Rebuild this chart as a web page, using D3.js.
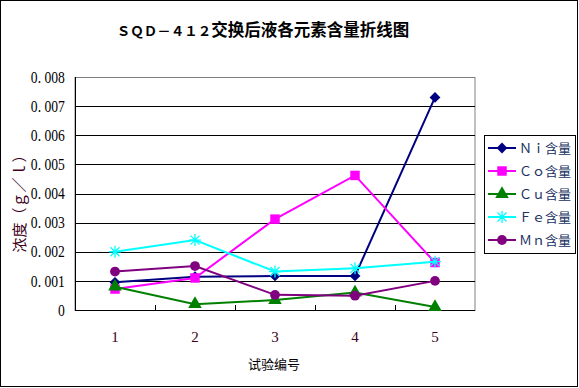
<!DOCTYPE html>
<html>
<head>
<meta charset="utf-8">
<script src="https://cdn.jsdelivr.net/npm/d3@7"></script>
<style>
  body { margin: 0; background: #fff; }
  svg text { font-family: "Liberation Serif", "DejaVu Serif", "Noto Sans CJK SC", serif; }
</style>
</head>
<body>
<svg id="chart" width="579" height="388"></svg>
<script>
// data
var trials = ["1", "2", "3", "4", "5"]
var niValues = [0.00095, 0.00114, 0.00117, 0.00117, 0.0073]
var coValues = [0.00072, 0.0011, 0.00312, 0.00462, 0.00163]
var cuValues = [0.0008, 0.0002, 0.00034, 0.0006, 0.0001]
var feValues = [0.002, 0.0024, 0.00132, 0.00143, 0.00166]
var mnValues = [0.00132, 0.00151, 0.00052, 0.00049, 0.001]
var yTicks = [0, 0.001, 0.002, 0.003, 0.004, 0.005, 0.006, 0.007, 0.008]
var seriesNames = ["Ｎｉ含量", "Ｃｏ含量", "Ｃｕ含量", "Ｆｅ含量", "Ｍｎ含量"]

var series = [
    { name: seriesNames[0], values: niValues, color: "#000080", symbol: d3.symbolDiamond2 },
    { name: seriesNames[1], values: coValues, color: "#ff00ff", symbol: d3.symbolSquare },
    { name: seriesNames[2], values: cuValues, color: "#008000", symbol: d3.symbolTriangle },
    { name: seriesNames[3], values: feValues, color: "#00ffff", symbol: "star" },
    { name: seriesNames[4], values: mnValues, color: "#800080", symbol: d3.symbolCircle }
]

var margin = {top: 77, left: 75},
    width = 400,
    height = 233

var svg = d3.select("#chart")

// outer frame
svg.append("rect")
    .attr("x", 0.5).attr("y", 0.5)
    .attr("width", 577).attr("height", 386)
    .attr("fill", "white").attr("stroke", "black")

var title = svg.append("text")
    .attr("x", 263).attr("y", 36)
    .attr("text-anchor", "middle")
    .style("font-weight", "bold")
title.append("tspan").style("font-size", "13.5px").text("ＳＱＤ－４１２")
title.append("tspan").style("font-size", "16.5px").text("交换后液各元素含量折线图")

var x = d3.scaleBand().domain(trials).range([0, width])
var y = d3.scaleLinear().domain([0, 0.008]).range([height, 0])

var g = svg.append("g")
    .attr("transform", "translate(" + margin.left + "," + margin.top + ")")

// plot border (grey top/right)
g.append("rect")
    .attr("x", 0).attr("y", 0.5)
    .attr("width", width).attr("height", height)
    .attr("fill", "white").attr("stroke", "#808080")

// gridlines
g.selectAll(".grid").data(yTicks.slice(1, -1)).enter()
    .append("line")
    .attr("x1", 0).attr("x2", width)
    .attr("y1", function(d) { return Math.round(y(d)) + 0.5 })
    .attr("y2", function(d) { return Math.round(y(d)) + 0.5 })
    .attr("stroke", "black")

// y axis
var yAxis = d3.axisLeft(y).tickValues(yTicks).tickSize(0).tickPadding(10)
    .tickFormat(function(d) { return d === 0 ? "0" : d3.format(".3f")(d).replace(".", ". ") })
var yg = g.append("g").call(yAxis)
    .attr("font-family", null)
yg.select(".domain").attr("stroke", "black").attr("d", "M0.5,0V" + (height + 0.5))
yg.selectAll("text")
    .style("font-size", "16px")
    .attr("fill", "#000")
    .attr("transform", "scale(0.85,1)")
    .attr("x", -12)

// x axis, ticks inside between categories
var xg = g.append("g").attr("transform", "translate(0," + height + ")")
xg.append("line").attr("x1", 0).attr("x2", width).attr("y1", 0.5).attr("y2", 0.5).attr("stroke", "black")
xg.selectAll(".tick").data(trials.slice(1)).enter()
    .append("line")
    .attr("x1", function(d) { return Math.round(x(d)) + 0.5 })
    .attr("x2", function(d) { return Math.round(x(d)) + 0.5 })
    .attr("y1", 0).attr("y2", -5)
    .attr("stroke", "black")
xg.selectAll(".lbl").data(trials).enter()
    .append("text")
    .attr("x", function(d) { return x(d) + x.bandwidth() / 2 })
    .attr("y", 32)
    .attr("text-anchor", "middle")
    .attr("fill", "#400020")
    .style("font-size", "15px")
    .text(function(d) { return d })

svg.append("text")
    .attr("x", 274).attr("y", 369)
    .attr("text-anchor", "middle")
    .style("font-size", "13px")
    .text("试验编号")

svg.append("text")
    .attr("transform", "translate(25,200) rotate(-90)")
    .attr("text-anchor", "middle")
    .attr("fill", "#400020")
    .style("font-size", "15px")
    .text("浓度（ｇ／ｌ）")

var line = d3.line()
    .x(function(d, i) { return x(trials[i]) + x.bandwidth() / 2 })
    .y(function(d) { return y(d) })

function drawMarker(sel, s, size) {
    if (s.symbol === "star") {
        var r = size
        sel.append("path")
            .attr("d", "M" + (-r) + ",0H" + r + "M0," + (-r) + "V" + r +
                "M" + (-r * 0.75) + "," + (-r * 0.75) + "L" + (r * 0.75) + "," + (r * 0.75) +
                "M" + (-r * 0.75) + "," + (r * 0.75) + "L" + (r * 0.75) + "," + (-r * 0.75))
            .attr("stroke", s.color).attr("stroke-width", 1.3).attr("fill", "none")
    } else {
        var area = s.symbol === d3.symbolSquare ? 90 : s.symbol === d3.symbolTriangle ? 80 : 75
        sel.append("path")
            .attr("d", d3.symbol().type(s.symbol).size(area))
            .attr("fill", s.color)
    }
}

series.forEach(function(s) {
    g.append("path")
        .datum(s.values)
        .attr("d", line)
        .attr("fill", "none")
        .attr("stroke", s.color)
        .attr("stroke-width", 2)
    s.values.forEach(function(v, i) {
        var m = g.append("g")
            .attr("transform", "translate(" + (x(trials[i]) + x.bandwidth() / 2) + "," + y(v) + ")")
        drawMarker(m, s, 6)
    })
})

// legend
var legend = svg.append("g")
legend.append("rect")
    .attr("x", 484.5).attr("y", 135.5)
    .attr("width", 91).attr("height", 118)
    .attr("fill", "white").attr("stroke", "black")

series.forEach(function(s, i) {
    var ly = 148 + i * 23
    var row = legend.append("g")
    row.append("line")
        .attr("x1", 488).attr("x2", 516)
        .attr("y1", ly).attr("y2", ly)
        .attr("stroke", s.color).attr("stroke-width", 2)
    var m = row.append("g").attr("transform", "translate(502," + ly + ")")
    drawMarker(m, s, 6)
    row.append("text")
        .attr("x", 519).attr("y", ly + 5)
        .style("font-size", "13px")
        .attr("fill", "#203060")
        .text(s.name)
})
</script>
</body>
</html>
